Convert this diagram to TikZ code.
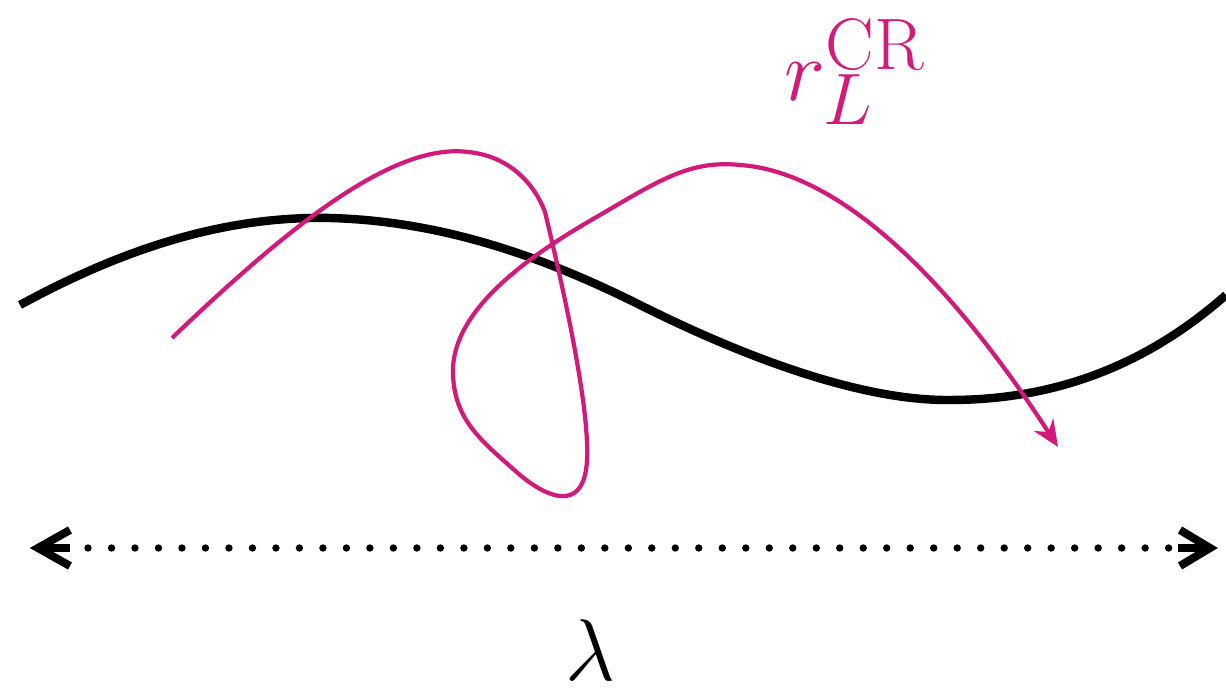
\documentclass[tikz,border=0pt]{standalone}
\usetikzlibrary{arrows.meta}
\definecolor{mag}{RGB}{210,26,122}
\begin{document}
\begin{tikzpicture}[x=0.01cm,y=-0.01cm,
  wave/.style={line width=2.4pt,black},
  traj/.style={line width=1.2pt,mag},
  chev/.style={line width=2.3pt,black,line join=miter,line cap=butt},
  dots/.style={line width=2.1pt,line cap=round,dash pattern=on 0pt off 0.23478cm}]
\useasboundingbox (0,0) rectangle (1226,692);
% black wave
\coordinate (w0) at (20,305);
\coordinate (w1) at (330,218);
\coordinate (w2) at (640,305);
\coordinate (w3) at (950,400);
\coordinate (w4) at (1226,295);
\draw[wave] (w0) .. controls (130,245) and (230,216) .. (w1)
  .. controls (440,221) and (540,255) .. (w2)
  .. controls (760,365) and (870,401) .. (w3)
  .. controls (1060,400) and (1150,362) .. (w4);
% magenta trajectory
\coordinate (t0) at (172,338);
\coordinate (t1) at (468,152);
\coordinate (t2) at (545,212);
\coordinate (t3) at (586,470);
\coordinate (t4) at (520,475);
\coordinate (t5) at (453,375);
\coordinate (t6) at (600,215);
\coordinate (t7) at (740,165);
\coordinate (t8) at (1058,447);
\draw[traj,-{Stealth[length=7.5pt,width=6.5pt]}] (t0) .. controls (280,235) and (390,142) .. (t1)
  .. controls (510,156) and (535,185) .. (t2)
  .. controls (560,275) and (594,420) .. (t3)
  .. controls (580,508) and (550,500) .. (t4)
  .. controls (480,440) and (455,420) .. (t5)
  .. controls (450,310) and (530,255) .. (t6)
  .. controls (660,180) and (690,160) .. (t7)
  .. controls (840,172) and (950,280) .. (t8);
\node[mag,font=\fontsize{30}{36}\selectfont,inner sep=0pt] (lab) at (855,72) {$r_L^{\mathrm{CR}}$};
% dotted double arrow
\coordinate (dl) at (88,548);
\coordinate (dr) at (1169,548);
\draw[dots] (dl) -- (dr);
\coordinate (lt) at (38,548);
\coordinate (rt) at (1210,548);
\draw[chev] (70,530) -- (lt) -- (70,566);
\draw[chev] (lt) -- (70,548);
\draw[chev] (1180,530) -- (rt) -- (1180,566);
\draw[chev] (1178,548) -- (rt);
\node[font=\fontsize{25}{30}\selectfont,inner sep=0pt] (lam) at (590,650) {$\lambda$};
\end{tikzpicture}
\end{document}
